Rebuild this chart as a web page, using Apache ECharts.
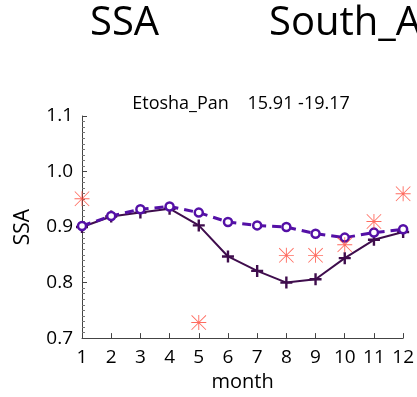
<!DOCTYPE html>
<html>
<head>
<meta charset="utf-8">
<script src="https://cdn.jsdelivr.net/npm/echarts@6/dist/echarts.min.js"></script>
<style>
  html, body { margin: 0; padding: 0; background: #fff; }
  #chart { width: 417px; height: 397px; }
</style>
</head>
<body>
<div id="chart"></div>
<script>
// months 1..12
var months = [1, 2, 3, 4, 5, 6, 7, 8, 9, 10, 11, 12];
// model SSA (solid, plus markers)
var ssaSolid = [0.900, 0.919, 0.926, 0.933, 0.903, 0.847, 0.821, 0.800, 0.806, 0.844, 0.877, 0.891];
// model SSA (dashed, circle markers)
var ssaDashed = [0.902, 0.920, 0.932, 0.937, 0.926, 0.909, 0.903, 0.900, 0.888, 0.881, 0.890, 0.896];
// observed (asterisks), null = no data
var ssaObs = [0.951, null, null, null, 0.728, null, null, 0.849, 0.849, 0.868, 0.910, 0.960];
var yTicks = [0.7, 0.8, 0.9, 1.0, 1.1];

var plusPath = 'path://M4,0 L6,0 L6,4 L10,4 L10,6 L6,6 L6,10 L4,10 L4,6 L0,6 L0,4 L4,4 Z';
var starPath = 'path://M9.4,0 L10.6,0 L10.6,20 L9.4,20 Z M0,9.4 L20,9.4 L20,10.6 L0,10.6 Z ' +
  'M0.8,0 L20,19.2 L19.2,20 L0,0.8 Z M19.2,0 L20,0.8 L0.8,20 L0,19.2 Z';

function pairs(vals) {
  var out = [];
  for (var i = 0; i < months.length; i++) {
    if (vals[i] != null) out.push([months[i], vals[i]]);
  }
  return out;
}

var chart = echarts.init(document.getElementById('chart'));
var font = 'Open Sans';
chart.setOption({
  animation: false,
  textStyle: { fontFamily: font },
  title: [
    { text: 'SSA', left: 85, top: -1, textStyle: { fontFamily: font, fontSize: 40, fontWeight: 500, color: '#000' } },
    { text: 'South_Africa', left: 264, top: -1, textStyle: { fontFamily: font, fontSize: 40, fontWeight: 500, color: '#000' } },
    { text: 'Etosha_Pan    15.91 -19.17', left: 236, top: 90, textAlign: 'center',
      textStyle: { fontFamily: font, fontSize: 18, fontWeight: 'normal', color: '#000' } }
  ],
  grid: { left: 82, right: 13, top: 116, bottom: 53, containLabel: false },
  xAxis: {
    type: 'value', min: 1, max: 12, interval: 1,
    name: 'month', nameLocation: 'middle', nameGap: 33,
    nameTextStyle: { fontSize: 20, color: '#000' },
    axisLine: { lineStyle: { color: '#444', width: 1 } },
    axisTick: { inside: true, length: 5, lineStyle: { color: '#444' } },
    axisLabel: { fontSize: 19, color: '#000', margin: 10 },
    splitLine: { show: false }
  },
  yAxis: {
    type: 'value', min: yTicks[0], max: yTicks[yTicks.length - 1], interval: 0.1,
    name: 'SSA', nameLocation: 'middle', nameGap: 48, nameRotate: 90,
    nameTextStyle: { fontSize: 21, color: '#000' },
    axisLine: { show: true, lineStyle: { color: '#444', width: 1 } },
    axisTick: { inside: true, length: 5, lineStyle: { color: '#444' } },
    minorTick: { show: true, splitNumber: 10, length: 3, lineStyle: { color: '#777' } },
    axisLabel: { fontSize: 19, color: '#000', margin: 9, formatter: function (v) { return v.toFixed(1); } },
    splitLine: { show: false }
  },
  series: [
    {
      type: 'line', data: pairs(ssaDashed), z: 3,
      lineStyle: { color: '#5410a6', width: 3, type: [9, 6] },
      symbol: 'circle', symbolSize: 8, showAllSymbol: true,
      itemStyle: { color: '#fff', borderColor: '#5410a6', borderWidth: 2.5 }
    },
    {
      type: 'line', data: pairs(ssaSolid), z: 2,
      lineStyle: { color: '#3f0d4d', width: 2 },
      symbol: plusPath, symbolSize: 12,
      itemStyle: { color: '#3f0d4d' }
    },
    {
      type: 'scatter', data: pairs(ssaObs), z: 4,
      symbol: starPath, symbolSize: 15,
      itemStyle: { color: '#ff3a2a', opacity: 0.75 }
    }
  ]
});
</script>
</body>
</html>
